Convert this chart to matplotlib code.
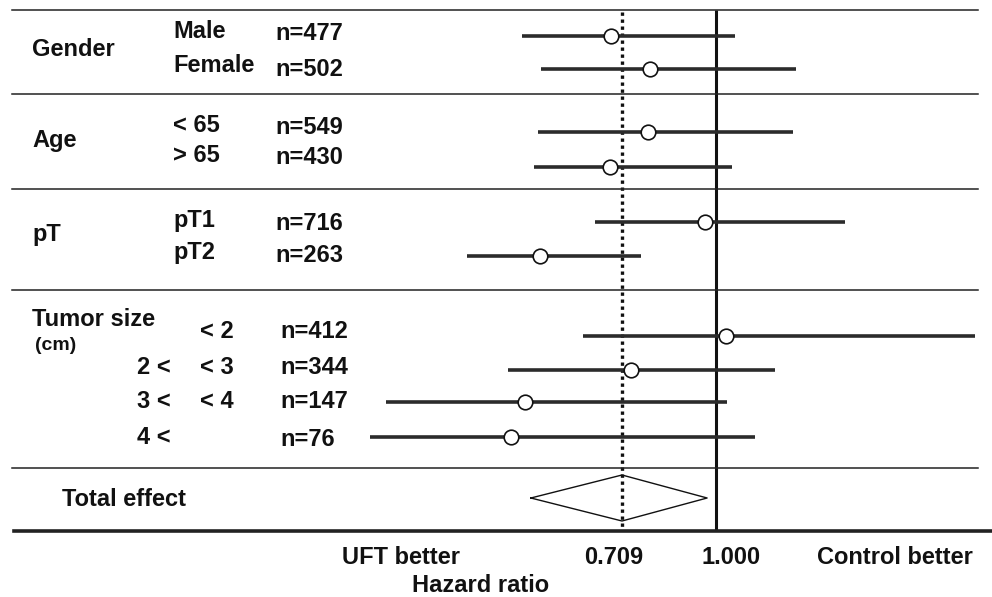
import numpy as np
import matplotlib
matplotlib.use('Agg')
import matplotlib.pyplot as plt
import matplotlib.transforms as mtransforms

# data
group_names = ['Gender', 'Age', 'pT', 'Tumor size']
left_labels = ['Male', 'Female', '< 65', '> 65', 'pT1', 'pT2', '', '2 <', '3 <', '4 <']
right_labels = ['', '', '', '', '', '', '< 2', '< 3', '< 4', '']
n_values = [477, 502, 549, 430, 716, 263, 412, 344, 147, 76]
hr = [0.681, 0.785, 0.780, 0.679, 0.961, 0.525, 1.037, 0.733, 0.497, 0.472]
ci_low = [0.492, 0.527, 0.521, 0.514, 0.642, 0.402, 0.615, 0.467, 0.299, 0.282]
ci_high = [1.072, 1.340, 1.325, 1.060, 1.603, 0.760, 2.58, 1.241, 1.041, 1.153]
total_hr = 0.709
total_low = 0.508
total_high = 0.968

W, H = 992, 597
fig = plt.figure(figsize=(W / 100, H / 100), dpi=100)
ax = fig.add_axes([0, 0, 1, 1])
ax.set_xscale('log')
ax.axis('off')

# calibrate the log axis so 0.709 and 1.000 sit where the reference draws them
x709, x100 = 622, 716
k = np.log(1 / total_hr) / (x100 - x709)
ax.set_xlim(np.exp(np.log(total_hr) - x709 * k), np.exp(np.log(total_hr) + (W - x709) * k))
ax.set_ylim(H, 0)

# pixel transform (origin top-left) for text and rules
px = mtransforms.Affine2D().scale(1 / W, -1 / H).translate(0, 1) + fig.transFigure
font = dict(family='Liberation Sans', weight='bold', fontsize=17, color='#111111')

row_y = [36, 69, 132, 167, 222, 256, 336, 370, 402, 437]
total_y = 498

# horizontal rules
for y in [10, 94, 189, 290, 468]:
    fig.add_artist(plt.Line2D([12, 978], [y, y], transform=px, color='#222222', lw=1.1))
fig.add_artist(plt.Line2D([14, 992], [531, 531], transform=px, color='#222222', lw=2.6))

# reference lines
ax.plot([1.0, 1.0], [10, 531], color='#111111', lw=2.2, solid_capstyle='butt')
ax.plot([total_hr, total_hr], [12, 527], color='#111111', lw=2.4,
        linestyle=(0, (1, 1.1)), dash_capstyle='butt')

# confidence intervals and point estimates
for y, lo, hi, m in zip(row_y, ci_low, ci_high, hr):
    ax.plot([lo, hi], [y, y], color='#2b2b2b', lw=2.6, solid_capstyle='butt', zorder=3)
    ax.plot(m, y, marker='o', ms=10.5, mfc='white', mec='#111111', mew=1.2, zorder=4)

# total effect diamond
dx = [total_low, total_hr, total_high, total_hr, total_low]
dy = [total_y, total_y - 23, total_y, total_y + 23, total_y]
ax.plot(dx, dy, color='#111111', lw=1.0, zorder=3)

# left-hand labels (shifted slightly to offset the descent in 'center' alignment)
dy_txt = 2
group_y = [48, 138, 233, 318]
for g, y in zip(group_names, group_y):
    fig.text(32, y + dy_txt, g, transform=px, va='center', ha='left', **font)
fig.text(35, 343 + dy_txt, '(cm)', transform=px, va='center', ha='left', **{**font, 'fontsize': 14})

label_y = [30, 64, 123, 153, 219, 251, 329, 365, 400, 436]
n_y = [32, 67, 125, 156, 222, 253, 330, 365, 400, 437]
for i in range(len(n_values)):
    if left_labels[i]:
        x = 173 if i < 6 else 137
        fig.text(x, label_y[i] + dy_txt, left_labels[i], transform=px, va='center', ha='left', **font)
    if right_labels[i]:
        fig.text(200, label_y[i] + dy_txt, right_labels[i], transform=px, va='center', ha='left', **font)
    fig.text(275 if i < 6 else 280, n_y[i] + dy_txt, f'n={n_values[i]}', transform=px,
             va='center', ha='left', **font)

fig.text(62, 498 + dy_txt, 'Total effect', transform=px, va='center', ha='left', **font)

# bottom axis labels
fig.text(342, 556 + dy_txt, 'UFT better', transform=px, va='center', ha='left', **font)
fig.text(614, 556 + dy_txt, f'{total_hr:.3f}', transform=px, va='center', ha='center', **font)
fig.text(731, 556 + dy_txt, f'{1.0:.3f}', transform=px, va='center', ha='center', **font)
fig.text(973, 556 + dy_txt, 'Control better', transform=px, va='center', ha='right', **font)
fig.text(481, 583 + dy_txt, 'Hazard ratio', transform=px, va='center', ha='center', **font)

fig.savefig('out.png', dpi=100)
